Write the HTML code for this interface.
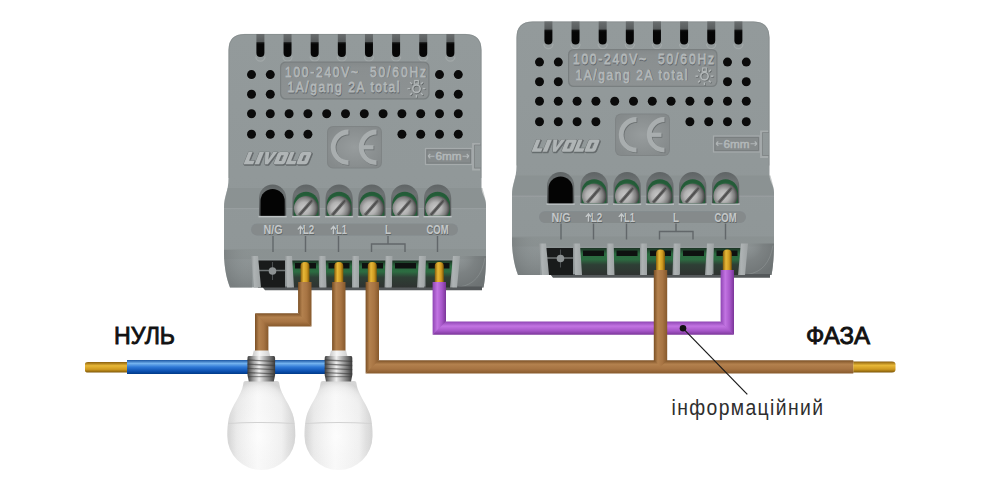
<!DOCTYPE html><html><head><meta charset="utf-8"><style>html,body{margin:0;padding:0;background:#fff;width:1000px;height:500px;overflow:hidden}svg{display:block}text{font-family:"Liberation Sans",sans-serif}</style></head><body>
<svg width="1000" height="500" viewBox="0 0 1000 500">
<defs><linearGradient id="body" x1="0" y1="0" x2="0" y2="1"><stop offset="0" stop-color="#939a9b"/><stop offset="0.55" stop-color="#919899"/><stop offset="1" stop-color="#8f9697"/></linearGradient>
<radialGradient id="lshade" cx="0.9" cy="0.0" r="1.1"><stop offset="0" stop-color="#8a8f90" stop-opacity="0.05"/><stop offset="0.6" stop-color="#767b7c" stop-opacity="0.35"/><stop offset="1" stop-color="#6a6f70" stop-opacity="0.6"/></radialGradient>
<linearGradient id="slot" x1="0" y1="0" x2="0" y2="1"><stop offset="0" stop-color="#6a6e6f"/><stop offset="0.33" stop-color="#585c5d"/><stop offset="0.38" stop-color="#151616"/><stop offset="0.45" stop-color="#060606"/><stop offset="1" stop-color="#050505"/></linearGradient>
<linearGradient id="rim" x1="0" y1="0" x2="0" y2="1"><stop offset="0" stop-color="#5f6465"/><stop offset="0.3" stop-color="#6d7273"/><stop offset="1" stop-color="#4e5253"/></linearGradient>
<radialGradient id="screw" cx="0.42" cy="0.5" r="0.56"><stop offset="0" stop-color="#cacaca"/><stop offset="0.45" stop-color="#b2b2b2"/><stop offset="0.8" stop-color="#7c7c7c"/><stop offset="1" stop-color="#4a4a4a"/></radialGradient><filter id="blur1" x="-50%" y="-50%" width="200%" height="200%"><feGaussianBlur stdDeviation="0.7"/></filter>
<linearGradient id="sslot" x1="0" y1="0" x2="1" y2="0.3"><stop offset="0" stop-color="#d8d8d8" stop-opacity="0"/><stop offset="0.35" stop-color="#5a5a5a"/><stop offset="0.6" stop-color="#7a7a7a"/><stop offset="1" stop-color="#e0e0e0" stop-opacity="0"/></linearGradient>
<linearGradient id="slotg" x1="0" y1="0" x2="0" y2="1"><stop offset="0" stop-color="#1c3324"/><stop offset="0.22" stop-color="#2a6a3f"/><stop offset="0.42" stop-color="#2c6c41"/><stop offset="0.62" stop-color="#2e3f35"/><stop offset="1" stop-color="#2f3331"/></linearGradient>
<linearGradient id="pillar" x1="0" y1="0" x2="1" y2="0"><stop offset="0" stop-color="#8f9495"/><stop offset="0.3" stop-color="#aeb3b4"/><stop offset="1" stop-color="#9ea3a4"/></linearGradient>
<radialGradient id="rshade" cx="0.1" cy="0.0" r="1.1"><stop offset="0" stop-color="#8a8f90" stop-opacity="0.2"/><stop offset="0.5" stop-color="#767b7c" stop-opacity="0.75"/><stop offset="1" stop-color="#6a6f70" stop-opacity="0.9"/></radialGradient>
<linearGradient id="inset" x1="0" y1="0" x2="0" y2="1"><stop offset="0" stop-color="#858a8b"/><stop offset="0.15" stop-color="#8a8f90"/><stop offset="1" stop-color="#8d9293"/></linearGradient>
<radialGradient id="inset2" cx="0.5" cy="0.5" r="0.6"><stop offset="0" stop-color="#979c9d"/><stop offset="1" stop-color="#858a8b"/></radialGradient>
<linearGradient id="brH" x1="0" y1="0" x2="1" y2="0"><stop offset="0" stop-color="#7a4f24"/><stop offset="0.3" stop-color="#b3814e"/><stop offset="0.65" stop-color="#a77443"/><stop offset="1" stop-color="#86592c"/></linearGradient>
<linearGradient id="brV" x1="0" y1="0" x2="0" y2="1"><stop offset="0" stop-color="#7a4f24"/><stop offset="0.3" stop-color="#b3814e"/><stop offset="0.65" stop-color="#a77443"/><stop offset="1" stop-color="#86592c"/></linearGradient>
<linearGradient id="puH" x1="0" y1="0" x2="1" y2="0"><stop offset="0" stop-color="#8e45b3"/><stop offset="0.35" stop-color="#c274e2"/><stop offset="0.7" stop-color="#a656c8"/><stop offset="1" stop-color="#7a3598"/></linearGradient>
<linearGradient id="puV" x1="0" y1="0" x2="0" y2="1"><stop offset="0" stop-color="#8e45b3"/><stop offset="0.35" stop-color="#c274e2"/><stop offset="0.7" stop-color="#a656c8"/><stop offset="1" stop-color="#7a3598"/></linearGradient>
<linearGradient id="blV" x1="0" y1="0" x2="0" y2="1"><stop offset="0" stop-color="#1a55a2"/><stop offset="0.25" stop-color="#72b2ee"/><stop offset="0.5" stop-color="#2f79d6"/><stop offset="0.8" stop-color="#0c50b0"/><stop offset="1" stop-color="#003a88"/></linearGradient>
<linearGradient id="bsH" x1="0" y1="0" x2="1" y2="0"><stop offset="0" stop-color="#8a5e0c"/><stop offset="0.35" stop-color="#e8b838"/><stop offset="0.7" stop-color="#cf9a20"/><stop offset="1" stop-color="#7c5608"/></linearGradient>
<linearGradient id="bsV" x1="0" y1="0" x2="0" y2="1"><stop offset="0" stop-color="#8a5e0c"/><stop offset="0.35" stop-color="#e8b838"/><stop offset="0.7" stop-color="#cf9a20"/><stop offset="1" stop-color="#7c5608"/></linearGradient>
<linearGradient id="metal" x1="0" y1="0" x2="1" y2="0"><stop offset="0" stop-color="#3e3e3e"/><stop offset="0.2" stop-color="#9a9a9a"/><stop offset="0.42" stop-color="#efefef"/><stop offset="0.62" stop-color="#b0b0b0"/><stop offset="0.85" stop-color="#6a6a6a"/><stop offset="1" stop-color="#3a3a3a"/></linearGradient>
<radialGradient id="glass" cx="0.47" cy="0.62" r="0.62"><stop offset="0" stop-color="#ffffff" stop-opacity="0.6"/><stop offset="0.7" stop-color="#f5f5f5" stop-opacity="0"/><stop offset="0.9" stop-color="#d0d0d0" stop-opacity="0.25"/><stop offset="1" stop-color="#b8b8b8" stop-opacity="0.5"/></radialGradient>
<linearGradient id="glassH" x1="0" y1="0" x2="1" y2="0"><stop offset="0" stop-color="#d4d4d4"/><stop offset="0.14" stop-color="#e9e9e9"/><stop offset="0.45" stop-color="#f9f9f9"/><stop offset="0.8" stop-color="#efefef"/><stop offset="1" stop-color="#d2d2d2"/></linearGradient>
<linearGradient id="collar" x1="0" y1="0" x2="1" y2="0"><stop offset="0" stop-color="#c8c8c8"/><stop offset="0.4" stop-color="#f6f6f6"/><stop offset="1" stop-color="#cfcfcf"/></linearGradient>
<linearGradient id="neck" x1="0" y1="0" x2="1" y2="0"><stop offset="0" stop-color="#dcdcdc"/><stop offset="0.4" stop-color="#f8f8f8"/><stop offset="1" stop-color="#e0e0e0"/></linearGradient></defs>
<rect width="1000" height="500" fill="#fff"/>
<g transform="translate(0,0)">
<path d="M228.5,50 Q228.5,34 244.5,34 H465.5 Q481.5,34 481.5,50 V187 C481.5,195 486,197 486,205 V254 C486,268 485,280 483.5,287.5 H230 C227,280 224,268 224,252 V208 C224,196 228.5,192 228.5,178 Z" fill="url(#body)"/>
<path d="M228.9,178 V50 Q228.9,34.4 244.5,34.4 H465.5 Q481.1,34.4 481.1,50 V178" fill="none" stroke="#7f8485" stroke-width="0.8" opacity="0.6"/>
<path d="M224,208 C224,198 226.5,193 227.5,188 H482.5 C483.5,193 486,198 486,208 Z" fill="#858b8c" opacity="0.45"/>
<rect x="224" y="208.2" width="262" height="1" fill="#a5aaab" opacity="0.5"/>
<rect x="224" y="249" width="262" height="10" fill="#868b8c" opacity="0.45"/>
<path d="M455,256 H486 C486,268 485,280 483.5,287.5 H455 Z" fill="url(#rshade)"/>
<path d="M252,250 H224 V252 C224,268 227,280 230,287.5 H252 Z" fill="url(#lshade)"/>
<path d="M459,287 C474,285 482,275 485,258" fill="none" stroke="#a9aeaf" stroke-width="1" opacity="0.3"/>
<path d="M262,286.5 H482 V290.3 H265 Z" fill="#54585a"/>
<path d="M255.80,56.5 a4.6,4.6 0 0 0 9.2,0" fill="none" stroke="#b5babb" stroke-width="1.2" opacity="0.45"/>
<path d="M256.40,34 h8 v19 a4,4 0 0 1 -8,0 Z" fill="url(#slot)"/>
<path d="M282.94,56.5 a4.6,4.6 0 0 0 9.2,0" fill="none" stroke="#b5babb" stroke-width="1.2" opacity="0.45"/>
<path d="M283.54,34 h8 v19 a4,4 0 0 1 -8,0 Z" fill="url(#slot)"/>
<path d="M310.08,56.5 a4.6,4.6 0 0 0 9.2,0" fill="none" stroke="#b5babb" stroke-width="1.2" opacity="0.45"/>
<path d="M310.68,34 h8 v19 a4,4 0 0 1 -8,0 Z" fill="url(#slot)"/>
<path d="M337.22,56.5 a4.6,4.6 0 0 0 9.2,0" fill="none" stroke="#b5babb" stroke-width="1.2" opacity="0.45"/>
<path d="M337.82,34 h8 v19 a4,4 0 0 1 -8,0 Z" fill="url(#slot)"/>
<path d="M364.36,56.5 a4.6,4.6 0 0 0 9.2,0" fill="none" stroke="#b5babb" stroke-width="1.2" opacity="0.45"/>
<path d="M364.96,34 h8 v19 a4,4 0 0 1 -8,0 Z" fill="url(#slot)"/>
<path d="M391.50,56.5 a4.6,4.6 0 0 0 9.2,0" fill="none" stroke="#b5babb" stroke-width="1.2" opacity="0.45"/>
<path d="M392.10,34 h8 v19 a4,4 0 0 1 -8,0 Z" fill="url(#slot)"/>
<path d="M418.64,56.5 a4.6,4.6 0 0 0 9.2,0" fill="none" stroke="#b5babb" stroke-width="1.2" opacity="0.45"/>
<path d="M419.24,34 h8 v19 a4,4 0 0 1 -8,0 Z" fill="url(#slot)"/>
<path d="M445.78,56.5 a4.6,4.6 0 0 0 9.2,0" fill="none" stroke="#b5babb" stroke-width="1.2" opacity="0.45"/>
<path d="M446.38,34 h8 v19 a4,4 0 0 1 -8,0 Z" fill="url(#slot)"/>
<circle cx="251.50" cy="75.1" r="4.6" fill="#b4b9ba" opacity="0.35"/>
<circle cx="251.50" cy="74.6" r="4.5" fill="#0b0b0b"/>
<circle cx="270.30" cy="75.1" r="4.6" fill="#b4b9ba" opacity="0.35"/>
<circle cx="270.30" cy="74.6" r="4.5" fill="#0b0b0b"/>
<circle cx="439.50" cy="75.1" r="4.6" fill="#b4b9ba" opacity="0.35"/>
<circle cx="439.50" cy="74.6" r="4.5" fill="#0b0b0b"/>
<circle cx="458.30" cy="75.1" r="4.6" fill="#b4b9ba" opacity="0.35"/>
<circle cx="458.30" cy="74.6" r="4.5" fill="#0b0b0b"/>
<circle cx="251.50" cy="94.7" r="4.6" fill="#b4b9ba" opacity="0.35"/>
<circle cx="251.50" cy="94.2" r="4.5" fill="#0b0b0b"/>
<circle cx="270.30" cy="94.7" r="4.6" fill="#b4b9ba" opacity="0.35"/>
<circle cx="270.30" cy="94.2" r="4.5" fill="#0b0b0b"/>
<circle cx="439.50" cy="94.7" r="4.6" fill="#b4b9ba" opacity="0.35"/>
<circle cx="439.50" cy="94.2" r="4.5" fill="#0b0b0b"/>
<circle cx="458.30" cy="94.7" r="4.6" fill="#b4b9ba" opacity="0.35"/>
<circle cx="458.30" cy="94.2" r="4.5" fill="#0b0b0b"/>
<circle cx="251.50" cy="114.3" r="4.6" fill="#b4b9ba" opacity="0.35"/>
<circle cx="251.50" cy="113.8" r="4.5" fill="#0b0b0b"/>
<circle cx="270.30" cy="114.3" r="4.6" fill="#b4b9ba" opacity="0.35"/>
<circle cx="270.30" cy="113.8" r="4.5" fill="#0b0b0b"/>
<circle cx="289.10" cy="114.3" r="4.6" fill="#b4b9ba" opacity="0.35"/>
<circle cx="289.10" cy="113.8" r="4.5" fill="#0b0b0b"/>
<circle cx="307.90" cy="114.3" r="4.6" fill="#b4b9ba" opacity="0.35"/>
<circle cx="307.90" cy="113.8" r="4.5" fill="#0b0b0b"/>
<circle cx="326.70" cy="114.3" r="4.6" fill="#b4b9ba" opacity="0.35"/>
<circle cx="326.70" cy="113.8" r="4.5" fill="#0b0b0b"/>
<circle cx="345.50" cy="114.3" r="4.6" fill="#b4b9ba" opacity="0.35"/>
<circle cx="345.50" cy="113.8" r="4.5" fill="#0b0b0b"/>
<circle cx="364.30" cy="114.3" r="4.6" fill="#b4b9ba" opacity="0.35"/>
<circle cx="364.30" cy="113.8" r="4.5" fill="#0b0b0b"/>
<circle cx="383.10" cy="114.3" r="4.6" fill="#b4b9ba" opacity="0.35"/>
<circle cx="383.10" cy="113.8" r="4.5" fill="#0b0b0b"/>
<circle cx="401.90" cy="114.3" r="4.6" fill="#b4b9ba" opacity="0.35"/>
<circle cx="401.90" cy="113.8" r="4.5" fill="#0b0b0b"/>
<circle cx="420.70" cy="114.3" r="4.6" fill="#b4b9ba" opacity="0.35"/>
<circle cx="420.70" cy="113.8" r="4.5" fill="#0b0b0b"/>
<circle cx="439.50" cy="114.3" r="4.6" fill="#b4b9ba" opacity="0.35"/>
<circle cx="439.50" cy="113.8" r="4.5" fill="#0b0b0b"/>
<circle cx="458.30" cy="114.3" r="4.6" fill="#b4b9ba" opacity="0.35"/>
<circle cx="458.30" cy="113.8" r="4.5" fill="#0b0b0b"/>
<circle cx="251.50" cy="134.7" r="4.6" fill="#b4b9ba" opacity="0.35"/>
<circle cx="251.50" cy="134.2" r="4.5" fill="#0b0b0b"/>
<circle cx="270.30" cy="134.7" r="4.6" fill="#b4b9ba" opacity="0.35"/>
<circle cx="270.30" cy="134.2" r="4.5" fill="#0b0b0b"/>
<circle cx="289.10" cy="134.7" r="4.6" fill="#b4b9ba" opacity="0.35"/>
<circle cx="289.10" cy="134.2" r="4.5" fill="#0b0b0b"/>
<circle cx="307.90" cy="134.7" r="4.6" fill="#b4b9ba" opacity="0.35"/>
<circle cx="307.90" cy="134.2" r="4.5" fill="#0b0b0b"/>
<circle cx="401.90" cy="134.7" r="4.6" fill="#b4b9ba" opacity="0.35"/>
<circle cx="401.90" cy="134.2" r="4.5" fill="#0b0b0b"/>
<circle cx="420.70" cy="134.7" r="4.6" fill="#b4b9ba" opacity="0.35"/>
<circle cx="420.70" cy="134.2" r="4.5" fill="#0b0b0b"/>
<circle cx="439.50" cy="134.7" r="4.6" fill="#b4b9ba" opacity="0.35"/>
<circle cx="439.50" cy="134.2" r="4.5" fill="#0b0b0b"/>
<circle cx="458.30" cy="134.7" r="4.6" fill="#b4b9ba" opacity="0.35"/>
<circle cx="458.30" cy="134.2" r="4.5" fill="#0b0b0b"/>
<rect x="280" y="61.5" width="149.5" height="38" rx="5.5" fill="#6f7475" opacity="0.7"/>
<rect x="281.2" y="62.7" width="147.1" height="35.6" rx="4.8" fill="url(#inset)"/>
<text transform="translate(285.49,77.3) scale(0.8,1)" x="0" y="0" font-size="15" fill="#60656a" stroke="#60656a" stroke-width="0.75" textLength="91.25" lengthAdjust="spacing">100-240V~</text>
<text transform="translate(285.0,76.6) scale(0.8,1)" x="0" y="0" font-size="15" fill="#b3b8b9" stroke="#b3b8b9" stroke-width="0.75" textLength="91.25" lengthAdjust="spacing">100-240V~</text>
<text transform="translate(370.49,77.3) scale(0.8,1)" x="0" y="0" font-size="15" fill="#60656a" stroke="#60656a" stroke-width="0.75" textLength="70.00" lengthAdjust="spacing">50/60Hz</text>
<text transform="translate(370.0,76.6) scale(0.8,1)" x="0" y="0" font-size="15" fill="#b3b8b9" stroke="#b3b8b9" stroke-width="0.75" textLength="70.00" lengthAdjust="spacing">50/60Hz</text>
<text transform="translate(287.99,92.8) scale(0.8,1)" x="0" y="0" font-size="15" fill="#60656a" stroke="#60656a" stroke-width="0.75" textLength="140.00" lengthAdjust="spacing">1A/gang 2A total</text>
<text transform="translate(287.5,92.1) scale(0.8,1)" x="0" y="0" font-size="15" fill="#b3b8b9" stroke="#b3b8b9" stroke-width="0.75" textLength="140.00" lengthAdjust="spacing">1A/gang 2A total</text>
<g transform="translate(0.6,0.6)">
<circle cx="416.5" cy="88.7" r="3.7" fill="none" stroke="#5d6263" stroke-width="1.6"/>
<line x1="420.95" y1="84.25" x2="422.86" y2="82.34" stroke="#5d6263" stroke-width="1.5"/>
<line x1="422.80" y1="88.70" x2="425.50" y2="88.70" stroke="#5d6263" stroke-width="1.5"/>
<line x1="420.95" y1="93.15" x2="422.86" y2="95.06" stroke="#5d6263" stroke-width="1.5"/>
<line x1="416.50" y1="95.00" x2="416.50" y2="97.70" stroke="#5d6263" stroke-width="1.5"/>
<line x1="412.05" y1="93.15" x2="410.14" y2="95.06" stroke="#5d6263" stroke-width="1.5"/>
<line x1="410.20" y1="88.70" x2="407.50" y2="88.70" stroke="#5d6263" stroke-width="1.5"/>
<line x1="412.05" y1="84.25" x2="410.14" y2="82.34" stroke="#5d6263" stroke-width="1.5"/>
<rect x="414.7" y="80.5" width="3.6" height="3.6" fill="none" stroke="#5d6263" stroke-width="1.2"/>
</g>
<g transform="translate(0,0)">
<circle cx="416.5" cy="88.7" r="3.7" fill="none" stroke="#b3b8b9" stroke-width="1.6"/>
<line x1="420.95" y1="84.25" x2="422.86" y2="82.34" stroke="#b3b8b9" stroke-width="1.5"/>
<line x1="422.80" y1="88.70" x2="425.50" y2="88.70" stroke="#b3b8b9" stroke-width="1.5"/>
<line x1="420.95" y1="93.15" x2="422.86" y2="95.06" stroke="#b3b8b9" stroke-width="1.5"/>
<line x1="416.50" y1="95.00" x2="416.50" y2="97.70" stroke="#b3b8b9" stroke-width="1.5"/>
<line x1="412.05" y1="93.15" x2="410.14" y2="95.06" stroke="#b3b8b9" stroke-width="1.5"/>
<line x1="410.20" y1="88.70" x2="407.50" y2="88.70" stroke="#b3b8b9" stroke-width="1.5"/>
<line x1="412.05" y1="84.25" x2="410.14" y2="82.34" stroke="#b3b8b9" stroke-width="1.5"/>
<rect x="414.7" y="80.5" width="3.6" height="3.6" fill="none" stroke="#b3b8b9" stroke-width="1.2"/>
</g>
<path transform="translate(244.5,165.2) skewX(-22)" d="M0,-12.2 h4.0 v8.6 h5.5 v3.6 h-9.5 Z" fill="#62676a" fill-rule="evenodd" stroke="#6a6f70" stroke-width="0.9" paint-order="stroke"/>
<path transform="translate(244.5,165.2) skewX(-22)" d="M11,-12.2 h4.5 v12.2 h-4.5 Z" fill="#62676a" fill-rule="evenodd" stroke="#6a6f70" stroke-width="0.9" paint-order="stroke"/>
<path transform="translate(244.5,165.2) skewX(-22)" d="M16.8,-12.2 h4.0 l2,7.699999999999999 l2,-7.699999999999999 h4.0 l-4.5,12.2 h-3 Z" fill="#62676a" fill-rule="evenodd" stroke="#6a6f70" stroke-width="0.9" paint-order="stroke"/>
<path transform="translate(244.5,165.2) skewX(-22)" d="M31.8,-12.2 h7 a2,2 0 0 1 2,2 v8.2 a2,2 0 0 1 -2,2 h-7 a2,2 0 0 1 -2,-2 v-8.2 a2,2 0 0 1 2,-2 Z M34.0,-9.0 v5.799999999999999 h2.6 v-5.799999999999999 Z" fill="#62676a" fill-rule="evenodd" stroke="#6a6f70" stroke-width="0.9" paint-order="stroke"/>
<path transform="translate(244.5,165.2) skewX(-22)" d="M42,-12.2 h4.0 v8.6 h5.5 v3.6 h-9.5 Z" fill="#62676a" fill-rule="evenodd" stroke="#6a6f70" stroke-width="0.9" paint-order="stroke"/>
<path transform="translate(244.5,165.2) skewX(-22)" d="M54.5,-12.2 h7 a2,2 0 0 1 2,2 v8.2 a2,2 0 0 1 -2,2 h-7 a2,2 0 0 1 -2,-2 v-8.2 a2,2 0 0 1 2,-2 Z M56.7,-9.0 v5.799999999999999 h2.6 v-5.799999999999999 Z" fill="#62676a" fill-rule="evenodd" stroke="#6a6f70" stroke-width="0.9" paint-order="stroke"/>
<path transform="translate(243.6,164.3) skewX(-22)" d="M0,-12.2 h4.0 v8.6 h5.5 v3.6 h-9.5 Z" fill="#b0b5b6" fill-rule="evenodd" stroke="#6a6f70" stroke-width="0.9" paint-order="stroke"/>
<path transform="translate(243.6,164.3) skewX(-22)" d="M11,-12.2 h4.5 v12.2 h-4.5 Z" fill="#b0b5b6" fill-rule="evenodd" stroke="#6a6f70" stroke-width="0.9" paint-order="stroke"/>
<path transform="translate(243.6,164.3) skewX(-22)" d="M16.8,-12.2 h4.0 l2,7.699999999999999 l2,-7.699999999999999 h4.0 l-4.5,12.2 h-3 Z" fill="#b0b5b6" fill-rule="evenodd" stroke="#6a6f70" stroke-width="0.9" paint-order="stroke"/>
<path transform="translate(243.6,164.3) skewX(-22)" d="M31.8,-12.2 h7 a2,2 0 0 1 2,2 v8.2 a2,2 0 0 1 -2,2 h-7 a2,2 0 0 1 -2,-2 v-8.2 a2,2 0 0 1 2,-2 Z M34.0,-9.0 v5.799999999999999 h2.6 v-5.799999999999999 Z" fill="#b0b5b6" fill-rule="evenodd" stroke="#6a6f70" stroke-width="0.9" paint-order="stroke"/>
<path transform="translate(243.6,164.3) skewX(-22)" d="M42,-12.2 h4.0 v8.6 h5.5 v3.6 h-9.5 Z" fill="#b0b5b6" fill-rule="evenodd" stroke="#6a6f70" stroke-width="0.9" paint-order="stroke"/>
<path transform="translate(243.6,164.3) skewX(-22)" d="M54.5,-12.2 h7 a2,2 0 0 1 2,2 v8.2 a2,2 0 0 1 -2,2 h-7 a2,2 0 0 1 -2,-2 v-8.2 a2,2 0 0 1 2,-2 Z M56.7,-9.0 v5.799999999999999 h2.6 v-5.799999999999999 Z" fill="#b0b5b6" fill-rule="evenodd" stroke="#6a6f70" stroke-width="0.9" paint-order="stroke"/>
<rect x="327" y="126" width="55" height="42.5" rx="6" fill="#7f8485"/>
<rect x="328" y="127" width="53" height="40.5" rx="5.5" fill="url(#inset2)"/>
<g transform="translate(0.8,0.8)">
<path d="M348.5,132 A15.3,15.3 0 0 0 348.5,162.6" fill="none" stroke="#6c7172" stroke-width="4.8"/>
<path d="M376.5,132 A15.3,15.3 0 0 0 376.5,162.6" fill="none" stroke="#6c7172" stroke-width="4.8"/>
<line x1="362" y1="147.3" x2="373.5" y2="147.3" stroke="#6c7172" stroke-width="4.2"/>
</g>
<g transform="translate(0,0)">
<path d="M348.5,132 A15.3,15.3 0 0 0 348.5,162.6" fill="none" stroke="#a9aeaf" stroke-width="4.8"/>
<path d="M376.5,132 A15.3,15.3 0 0 0 376.5,162.6" fill="none" stroke="#a9aeaf" stroke-width="4.8"/>
<line x1="362" y1="147.3" x2="373.5" y2="147.3" stroke="#a9aeaf" stroke-width="4.2"/>
</g>
<rect x="425.5" y="148.5" width="46.5" height="16" fill="#868b8c" stroke="#a6abac" stroke-width="1.2"/>
<rect x="427" y="150" width="43.5" height="13" fill="none" stroke="#787d7e" stroke-width="0.8"/>
<text x="435.5" y="160" font-size="10.8" fill="#b3b8b9" stroke="#b3b8b9" stroke-width="0.5" textLength="26" lengthAdjust="spacingAndGlyphs">6mm</text>
<path d="M428,156.2 H434.5 M428,156.2 l2.3,-2.2 M428,156.2 l2.3,2.2 M462.5,156.2 H469 M469,156.2 l-2.3,-2.2 M469,156.2 l-2.3,2.2" fill="none" stroke="#b3b8b9" stroke-width="1.1"/>
<path d="M480,144 H473 V169.5 H480" fill="none" stroke="#a6abac" stroke-width="1.8"/>
<path d="M481,145 H474.5 V168 H481" fill="none" stroke="#7b8081" stroke-width="0.7"/>
<rect x="258.5" y="215.8" width="28.2" height="1.6" fill="#c3c8c9" opacity="0.85"/>
<path d="M259,215.8 V198.1 A13.6,13.6 0 0 1 286.2,198.1 V215.8 Z" fill="url(#rim)"/>
<path d="M260.5,215.8 V201.1 A12.1,12.1 0 0 1 284.7,201.1 V215.8 Z" fill="#040404"/>
<rect x="292.0" y="215.8" width="28.2" height="1.6" fill="#c3c8c9" opacity="0.85"/>
<path d="M292.5,215.8 V198.1 A13.6,13.6 0 0 1 319.7,198.1 V215.8 Z" fill="url(#rim)"/>
<path d="M293.7,215.8 V204.1 A12.4,12.4 0 0 1 318.5,204.1 V215.8 Z" fill="#245c38"/>
<path d="M295.0,215.8 V206.1 A11.1,11.1 0 0 1 317.2,206.1 V215.8 Z" fill="#2b6e44" opacity="0.5"/>
<clipPath id="cp2925"><rect x="292.5" y="180" width="27.2" height="35.80000000000001"/></clipPath>
<g clip-path="url(#cp2925)">
<circle cx="306.1" cy="208.3" r="12.2" fill="url(#screw)"/>
<line x1="299.1" y1="215.3" x2="312.6" y2="199.8" stroke="#6a6a6a" stroke-width="3.4" filter="url(#blur1)"/>
<line x1="299.6" y1="214.8" x2="312.1" y2="200.3" stroke="#4a4a4a" stroke-width="1.2" filter="url(#blur1)"/>
</g>
<rect x="325.0" y="215.8" width="28.2" height="1.6" fill="#c3c8c9" opacity="0.85"/>
<path d="M325.5,215.8 V198.1 A13.6,13.6 0 0 1 352.7,198.1 V215.8 Z" fill="url(#rim)"/>
<path d="M326.7,215.8 V204.1 A12.4,12.4 0 0 1 351.5,204.1 V215.8 Z" fill="#245c38"/>
<path d="M328.0,215.8 V206.1 A11.1,11.1 0 0 1 350.2,206.1 V215.8 Z" fill="#2b6e44" opacity="0.5"/>
<clipPath id="cp3255"><rect x="325.5" y="180" width="27.2" height="35.80000000000001"/></clipPath>
<g clip-path="url(#cp3255)">
<circle cx="339.1" cy="208.3" r="12.2" fill="url(#screw)"/>
<line x1="332.1" y1="215.3" x2="345.6" y2="199.8" stroke="#6a6a6a" stroke-width="3.4" filter="url(#blur1)"/>
<line x1="332.6" y1="214.8" x2="345.1" y2="200.3" stroke="#4a4a4a" stroke-width="1.2" filter="url(#blur1)"/>
</g>
<rect x="357.8" y="215.8" width="28.2" height="1.6" fill="#c3c8c9" opacity="0.85"/>
<path d="M358.3,215.8 V198.1 A13.6,13.6 0 0 1 385.5,198.1 V215.8 Z" fill="url(#rim)"/>
<path d="M359.5,215.8 V204.1 A12.4,12.4 0 0 1 384.3,204.1 V215.8 Z" fill="#245c38"/>
<path d="M360.8,215.8 V206.1 A11.1,11.1 0 0 1 383.0,206.1 V215.8 Z" fill="#2b6e44" opacity="0.5"/>
<clipPath id="cp3583"><rect x="358.3" y="180" width="27.2" height="35.80000000000001"/></clipPath>
<g clip-path="url(#cp3583)">
<circle cx="371.90000000000003" cy="208.3" r="12.2" fill="url(#screw)"/>
<line x1="364.90000000000003" y1="215.3" x2="378.40000000000003" y2="199.8" stroke="#6a6a6a" stroke-width="3.4" filter="url(#blur1)"/>
<line x1="365.40000000000003" y1="214.8" x2="377.90000000000003" y2="200.3" stroke="#4a4a4a" stroke-width="1.2" filter="url(#blur1)"/>
</g>
<rect x="390.6" y="215.8" width="28.2" height="1.6" fill="#c3c8c9" opacity="0.85"/>
<path d="M391.1,215.8 V198.1 A13.6,13.6 0 0 1 418.3,198.1 V215.8 Z" fill="url(#rim)"/>
<path d="M392.3,215.8 V204.1 A12.4,12.4 0 0 1 417.1,204.1 V215.8 Z" fill="#245c38"/>
<path d="M393.6,215.8 V206.1 A11.1,11.1 0 0 1 415.8,206.1 V215.8 Z" fill="#2b6e44" opacity="0.5"/>
<clipPath id="cp3911"><rect x="391.1" y="180" width="27.2" height="35.80000000000001"/></clipPath>
<g clip-path="url(#cp3911)">
<circle cx="404.70000000000005" cy="208.3" r="12.2" fill="url(#screw)"/>
<line x1="397.70000000000005" y1="215.3" x2="411.20000000000005" y2="199.8" stroke="#6a6a6a" stroke-width="3.4" filter="url(#blur1)"/>
<line x1="398.20000000000005" y1="214.8" x2="410.70000000000005" y2="200.3" stroke="#4a4a4a" stroke-width="1.2" filter="url(#blur1)"/>
</g>
<rect x="423.5" y="215.8" width="28.2" height="1.6" fill="#c3c8c9" opacity="0.85"/>
<path d="M424,215.8 V198.1 A13.6,13.6 0 0 1 451.2,198.1 V215.8 Z" fill="url(#rim)"/>
<path d="M425.2,215.8 V204.1 A12.4,12.4 0 0 1 450.0,204.1 V215.8 Z" fill="#245c38"/>
<path d="M426.5,215.8 V206.1 A11.1,11.1 0 0 1 448.7,206.1 V215.8 Z" fill="#2b6e44" opacity="0.5"/>
<clipPath id="cp4240"><rect x="424" y="180" width="27.2" height="35.80000000000001"/></clipPath>
<g clip-path="url(#cp4240)">
<circle cx="437.6" cy="208.3" r="12.2" fill="url(#screw)"/>
<line x1="430.6" y1="215.3" x2="444.1" y2="199.8" stroke="#6a6a6a" stroke-width="3.4" filter="url(#blur1)"/>
<line x1="431.1" y1="214.8" x2="443.6" y2="200.3" stroke="#4a4a4a" stroke-width="1.2" filter="url(#blur1)"/>
</g>
<rect x="251" y="223.5" width="207" height="12" rx="6" fill="#80858a" opacity="0.65"/>
<rect x="251.5" y="224.2" width="206" height="11" rx="5.5" fill="#858a8b"/>
<text x="273.5" y="235" text-anchor="middle" font-size="12" font-weight="bold" fill="#5f6465" textLength="19" lengthAdjust="spacingAndGlyphs">N/G</text>
<text x="273" y="234.3" text-anchor="middle" font-size="12" font-weight="bold" fill="#c4c8c9" textLength="19" lengthAdjust="spacingAndGlyphs">N/G</text>
<text x="309.0" y="235" text-anchor="middle" font-size="12" font-weight="bold" fill="#5f6465" textLength="11.5" lengthAdjust="spacingAndGlyphs">L2</text>
<text x="308.5" y="234.3" text-anchor="middle" font-size="12" font-weight="bold" fill="#c4c8c9" textLength="11.5" lengthAdjust="spacingAndGlyphs">L2</text>
<text x="342.0" y="235" text-anchor="middle" font-size="12" font-weight="bold" fill="#5f6465" textLength="11" lengthAdjust="spacingAndGlyphs">L1</text>
<text x="341.5" y="234.3" text-anchor="middle" font-size="12" font-weight="bold" fill="#c4c8c9" textLength="11" lengthAdjust="spacingAndGlyphs">L1</text>
<text x="388.5" y="235" text-anchor="middle" font-size="12" font-weight="bold" fill="#5f6465" textLength="6" lengthAdjust="spacingAndGlyphs">L</text>
<text x="388" y="234.3" text-anchor="middle" font-size="12" font-weight="bold" fill="#c4c8c9" textLength="6" lengthAdjust="spacingAndGlyphs">L</text>
<text x="438.0" y="235" text-anchor="middle" font-size="12" font-weight="bold" fill="#5f6465" textLength="22" lengthAdjust="spacingAndGlyphs">COM</text>
<text x="437.5" y="234.3" text-anchor="middle" font-size="12" font-weight="bold" fill="#c4c8c9" textLength="22" lengthAdjust="spacingAndGlyphs">COM</text>
<path transform="translate(0.5,0.5)" d="M300.5,226.5 V234.3 M297.9,229.4 L300.5,226.3 L303.1,229.4" fill="none" stroke="#5f6465" stroke-width="1.5"/>
<path transform="translate(0,0)" d="M300.5,226.5 V234.3 M297.9,229.4 L300.5,226.3 L303.1,229.4" fill="none" stroke="#c4c8c9" stroke-width="1.5"/>
<path transform="translate(0.5,0.5)" d="M333.5,226.5 V234.3 M330.9,229.4 L333.5,226.3 L336.1,229.4" fill="none" stroke="#5f6465" stroke-width="1.5"/>
<path transform="translate(0,0)" d="M333.5,226.5 V234.3 M330.9,229.4 L333.5,226.3 L336.1,229.4" fill="none" stroke="#c4c8c9" stroke-width="1.5"/>
<line x1="273" y1="236" x2="273" y2="252" stroke="#62676a" stroke-width="1.4"/>
<line x1="305.5" y1="236" x2="305.5" y2="252" stroke="#62676a" stroke-width="1.4"/>
<line x1="338.5" y1="236" x2="338.5" y2="252" stroke="#62676a" stroke-width="1.4"/>
<line x1="437.5" y1="236" x2="437.5" y2="252" stroke="#62676a" stroke-width="1.4"/>
<path d="M388,236 V244 M371.5,252 V244 H405 V252" fill="none" stroke="#62676a" stroke-width="1.4"/>
<rect x="258" y="260.5" width="27" height="27" fill="#191b1b"/>
<line x1="258" y1="270.5" x2="285" y2="270.5" stroke="#6f7475" stroke-width="1.5"/>
<line x1="272.5" y1="262" x2="272.5" y2="280" stroke="#4a4e4f" stroke-width="1.1"/>
<circle cx="272.5" cy="271" r="3.8" fill="#8d9293"/>
<rect x="292" y="260.5" width="27" height="27" fill="url(#slotg)"/>
<rect x="295" y="263" width="21" height="5.5" fill="#0e1110"/>
<rect x="325.5" y="260.5" width="27" height="27" fill="url(#slotg)"/>
<rect x="328.5" y="263" width="21" height="5.5" fill="#0e1110"/>
<rect x="359" y="260.5" width="27" height="27" fill="url(#slotg)"/>
<rect x="362" y="263" width="21" height="5.5" fill="#0e1110"/>
<rect x="392" y="260.5" width="27" height="27" fill="url(#slotg)"/>
<rect x="395" y="263" width="21" height="5.5" fill="#0e1110"/>
<rect x="425.5" y="260.5" width="27" height="27" fill="url(#slotg)"/>
<rect x="428.5" y="263" width="21" height="5.5" fill="#0e1110"/>
<path d="M251,256 H258 L261.0,287.5 H254.0 Z" fill="url(#pillar)"/>
<path d="M285,256 H292 L294.0,287.5 H287.0 Z" fill="url(#pillar)"/>
<path d="M318.5,256 H325.5 L326.5,287.5 H319.5 Z" fill="url(#pillar)"/>
<path d="M352,256 H359 L359.0,287.5 H352.0 Z" fill="url(#pillar)"/>
<path d="M385.5,256 H392.5 L391.5,287.5 H384.5 Z" fill="url(#pillar)"/>
<path d="M419,256 H426 L424.0,287.5 H417.0 Z" fill="url(#pillar)"/>
<path d="M453,256 H460 L457.0,287.5 H450.0 Z" fill="url(#pillar)"/>
</g>
<g transform="translate(288,-12.5)">
<path d="M228.5,50 Q228.5,34 244.5,34 H465.5 Q481.5,34 481.5,50 V187 C481.5,195 486,197 486,205 V254 C486,268 485,280 483.5,287.5 H230 C227,280 224,268 224,252 V208 C224,196 228.5,192 228.5,178 Z" fill="url(#body)"/>
<path d="M228.9,178 V50 Q228.9,34.4 244.5,34.4 H465.5 Q481.1,34.4 481.1,50 V178" fill="none" stroke="#7f8485" stroke-width="0.8" opacity="0.6"/>
<path d="M224,208 C224,198 226.5,193 227.5,188 H482.5 C483.5,193 486,198 486,208 Z" fill="#858b8c" opacity="0.45"/>
<rect x="224" y="208.2" width="262" height="1" fill="#a5aaab" opacity="0.5"/>
<rect x="224" y="249" width="262" height="10" fill="#868b8c" opacity="0.45"/>
<path d="M455,256 H486 C486,268 485,280 483.5,287.5 H455 Z" fill="url(#rshade)"/>
<path d="M252,250 H224 V252 C224,268 227,280 230,287.5 H252 Z" fill="url(#lshade)"/>
<path d="M459,287 C474,285 482,275 485,258" fill="none" stroke="#a9aeaf" stroke-width="1" opacity="0.3"/>
<path d="M262,286.5 H482 V290.3 H265 Z" fill="#54585a"/>
<path d="M255.80,56.5 a4.6,4.6 0 0 0 9.2,0" fill="none" stroke="#b5babb" stroke-width="1.2" opacity="0.45"/>
<path d="M256.40,34 h8 v19 a4,4 0 0 1 -8,0 Z" fill="url(#slot)"/>
<path d="M282.94,56.5 a4.6,4.6 0 0 0 9.2,0" fill="none" stroke="#b5babb" stroke-width="1.2" opacity="0.45"/>
<path d="M283.54,34 h8 v19 a4,4 0 0 1 -8,0 Z" fill="url(#slot)"/>
<path d="M310.08,56.5 a4.6,4.6 0 0 0 9.2,0" fill="none" stroke="#b5babb" stroke-width="1.2" opacity="0.45"/>
<path d="M310.68,34 h8 v19 a4,4 0 0 1 -8,0 Z" fill="url(#slot)"/>
<path d="M337.22,56.5 a4.6,4.6 0 0 0 9.2,0" fill="none" stroke="#b5babb" stroke-width="1.2" opacity="0.45"/>
<path d="M337.82,34 h8 v19 a4,4 0 0 1 -8,0 Z" fill="url(#slot)"/>
<path d="M364.36,56.5 a4.6,4.6 0 0 0 9.2,0" fill="none" stroke="#b5babb" stroke-width="1.2" opacity="0.45"/>
<path d="M364.96,34 h8 v19 a4,4 0 0 1 -8,0 Z" fill="url(#slot)"/>
<path d="M391.50,56.5 a4.6,4.6 0 0 0 9.2,0" fill="none" stroke="#b5babb" stroke-width="1.2" opacity="0.45"/>
<path d="M392.10,34 h8 v19 a4,4 0 0 1 -8,0 Z" fill="url(#slot)"/>
<path d="M418.64,56.5 a4.6,4.6 0 0 0 9.2,0" fill="none" stroke="#b5babb" stroke-width="1.2" opacity="0.45"/>
<path d="M419.24,34 h8 v19 a4,4 0 0 1 -8,0 Z" fill="url(#slot)"/>
<path d="M445.78,56.5 a4.6,4.6 0 0 0 9.2,0" fill="none" stroke="#b5babb" stroke-width="1.2" opacity="0.45"/>
<path d="M446.38,34 h8 v19 a4,4 0 0 1 -8,0 Z" fill="url(#slot)"/>
<circle cx="251.50" cy="75.1" r="4.6" fill="#b4b9ba" opacity="0.35"/>
<circle cx="251.50" cy="74.6" r="4.5" fill="#0b0b0b"/>
<circle cx="270.30" cy="75.1" r="4.6" fill="#b4b9ba" opacity="0.35"/>
<circle cx="270.30" cy="74.6" r="4.5" fill="#0b0b0b"/>
<circle cx="439.50" cy="75.1" r="4.6" fill="#b4b9ba" opacity="0.35"/>
<circle cx="439.50" cy="74.6" r="4.5" fill="#0b0b0b"/>
<circle cx="458.30" cy="75.1" r="4.6" fill="#b4b9ba" opacity="0.35"/>
<circle cx="458.30" cy="74.6" r="4.5" fill="#0b0b0b"/>
<circle cx="251.50" cy="94.7" r="4.6" fill="#b4b9ba" opacity="0.35"/>
<circle cx="251.50" cy="94.2" r="4.5" fill="#0b0b0b"/>
<circle cx="270.30" cy="94.7" r="4.6" fill="#b4b9ba" opacity="0.35"/>
<circle cx="270.30" cy="94.2" r="4.5" fill="#0b0b0b"/>
<circle cx="439.50" cy="94.7" r="4.6" fill="#b4b9ba" opacity="0.35"/>
<circle cx="439.50" cy="94.2" r="4.5" fill="#0b0b0b"/>
<circle cx="458.30" cy="94.7" r="4.6" fill="#b4b9ba" opacity="0.35"/>
<circle cx="458.30" cy="94.2" r="4.5" fill="#0b0b0b"/>
<circle cx="251.50" cy="114.3" r="4.6" fill="#b4b9ba" opacity="0.35"/>
<circle cx="251.50" cy="113.8" r="4.5" fill="#0b0b0b"/>
<circle cx="270.30" cy="114.3" r="4.6" fill="#b4b9ba" opacity="0.35"/>
<circle cx="270.30" cy="113.8" r="4.5" fill="#0b0b0b"/>
<circle cx="289.10" cy="114.3" r="4.6" fill="#b4b9ba" opacity="0.35"/>
<circle cx="289.10" cy="113.8" r="4.5" fill="#0b0b0b"/>
<circle cx="307.90" cy="114.3" r="4.6" fill="#b4b9ba" opacity="0.35"/>
<circle cx="307.90" cy="113.8" r="4.5" fill="#0b0b0b"/>
<circle cx="326.70" cy="114.3" r="4.6" fill="#b4b9ba" opacity="0.35"/>
<circle cx="326.70" cy="113.8" r="4.5" fill="#0b0b0b"/>
<circle cx="345.50" cy="114.3" r="4.6" fill="#b4b9ba" opacity="0.35"/>
<circle cx="345.50" cy="113.8" r="4.5" fill="#0b0b0b"/>
<circle cx="364.30" cy="114.3" r="4.6" fill="#b4b9ba" opacity="0.35"/>
<circle cx="364.30" cy="113.8" r="4.5" fill="#0b0b0b"/>
<circle cx="383.10" cy="114.3" r="4.6" fill="#b4b9ba" opacity="0.35"/>
<circle cx="383.10" cy="113.8" r="4.5" fill="#0b0b0b"/>
<circle cx="401.90" cy="114.3" r="4.6" fill="#b4b9ba" opacity="0.35"/>
<circle cx="401.90" cy="113.8" r="4.5" fill="#0b0b0b"/>
<circle cx="420.70" cy="114.3" r="4.6" fill="#b4b9ba" opacity="0.35"/>
<circle cx="420.70" cy="113.8" r="4.5" fill="#0b0b0b"/>
<circle cx="439.50" cy="114.3" r="4.6" fill="#b4b9ba" opacity="0.35"/>
<circle cx="439.50" cy="113.8" r="4.5" fill="#0b0b0b"/>
<circle cx="458.30" cy="114.3" r="4.6" fill="#b4b9ba" opacity="0.35"/>
<circle cx="458.30" cy="113.8" r="4.5" fill="#0b0b0b"/>
<circle cx="251.50" cy="134.7" r="4.6" fill="#b4b9ba" opacity="0.35"/>
<circle cx="251.50" cy="134.2" r="4.5" fill="#0b0b0b"/>
<circle cx="270.30" cy="134.7" r="4.6" fill="#b4b9ba" opacity="0.35"/>
<circle cx="270.30" cy="134.2" r="4.5" fill="#0b0b0b"/>
<circle cx="289.10" cy="134.7" r="4.6" fill="#b4b9ba" opacity="0.35"/>
<circle cx="289.10" cy="134.2" r="4.5" fill="#0b0b0b"/>
<circle cx="307.90" cy="134.7" r="4.6" fill="#b4b9ba" opacity="0.35"/>
<circle cx="307.90" cy="134.2" r="4.5" fill="#0b0b0b"/>
<circle cx="401.90" cy="134.7" r="4.6" fill="#b4b9ba" opacity="0.35"/>
<circle cx="401.90" cy="134.2" r="4.5" fill="#0b0b0b"/>
<circle cx="420.70" cy="134.7" r="4.6" fill="#b4b9ba" opacity="0.35"/>
<circle cx="420.70" cy="134.2" r="4.5" fill="#0b0b0b"/>
<circle cx="439.50" cy="134.7" r="4.6" fill="#b4b9ba" opacity="0.35"/>
<circle cx="439.50" cy="134.2" r="4.5" fill="#0b0b0b"/>
<circle cx="458.30" cy="134.7" r="4.6" fill="#b4b9ba" opacity="0.35"/>
<circle cx="458.30" cy="134.2" r="4.5" fill="#0b0b0b"/>
<rect x="280" y="61.5" width="149.5" height="38" rx="5.5" fill="#6f7475" opacity="0.7"/>
<rect x="281.2" y="62.7" width="147.1" height="35.6" rx="4.8" fill="url(#inset)"/>
<text transform="translate(285.49,77.3) scale(0.8,1)" x="0" y="0" font-size="15" fill="#60656a" stroke="#60656a" stroke-width="0.75" textLength="91.25" lengthAdjust="spacing">100-240V~</text>
<text transform="translate(285.0,76.6) scale(0.8,1)" x="0" y="0" font-size="15" fill="#b3b8b9" stroke="#b3b8b9" stroke-width="0.75" textLength="91.25" lengthAdjust="spacing">100-240V~</text>
<text transform="translate(370.49,77.3) scale(0.8,1)" x="0" y="0" font-size="15" fill="#60656a" stroke="#60656a" stroke-width="0.75" textLength="70.00" lengthAdjust="spacing">50/60Hz</text>
<text transform="translate(370.0,76.6) scale(0.8,1)" x="0" y="0" font-size="15" fill="#b3b8b9" stroke="#b3b8b9" stroke-width="0.75" textLength="70.00" lengthAdjust="spacing">50/60Hz</text>
<text transform="translate(287.99,92.8) scale(0.8,1)" x="0" y="0" font-size="15" fill="#60656a" stroke="#60656a" stroke-width="0.75" textLength="140.00" lengthAdjust="spacing">1A/gang 2A total</text>
<text transform="translate(287.5,92.1) scale(0.8,1)" x="0" y="0" font-size="15" fill="#b3b8b9" stroke="#b3b8b9" stroke-width="0.75" textLength="140.00" lengthAdjust="spacing">1A/gang 2A total</text>
<g transform="translate(0.6,0.6)">
<circle cx="416.5" cy="88.7" r="3.7" fill="none" stroke="#5d6263" stroke-width="1.6"/>
<line x1="420.95" y1="84.25" x2="422.86" y2="82.34" stroke="#5d6263" stroke-width="1.5"/>
<line x1="422.80" y1="88.70" x2="425.50" y2="88.70" stroke="#5d6263" stroke-width="1.5"/>
<line x1="420.95" y1="93.15" x2="422.86" y2="95.06" stroke="#5d6263" stroke-width="1.5"/>
<line x1="416.50" y1="95.00" x2="416.50" y2="97.70" stroke="#5d6263" stroke-width="1.5"/>
<line x1="412.05" y1="93.15" x2="410.14" y2="95.06" stroke="#5d6263" stroke-width="1.5"/>
<line x1="410.20" y1="88.70" x2="407.50" y2="88.70" stroke="#5d6263" stroke-width="1.5"/>
<line x1="412.05" y1="84.25" x2="410.14" y2="82.34" stroke="#5d6263" stroke-width="1.5"/>
<rect x="414.7" y="80.5" width="3.6" height="3.6" fill="none" stroke="#5d6263" stroke-width="1.2"/>
</g>
<g transform="translate(0,0)">
<circle cx="416.5" cy="88.7" r="3.7" fill="none" stroke="#b3b8b9" stroke-width="1.6"/>
<line x1="420.95" y1="84.25" x2="422.86" y2="82.34" stroke="#b3b8b9" stroke-width="1.5"/>
<line x1="422.80" y1="88.70" x2="425.50" y2="88.70" stroke="#b3b8b9" stroke-width="1.5"/>
<line x1="420.95" y1="93.15" x2="422.86" y2="95.06" stroke="#b3b8b9" stroke-width="1.5"/>
<line x1="416.50" y1="95.00" x2="416.50" y2="97.70" stroke="#b3b8b9" stroke-width="1.5"/>
<line x1="412.05" y1="93.15" x2="410.14" y2="95.06" stroke="#b3b8b9" stroke-width="1.5"/>
<line x1="410.20" y1="88.70" x2="407.50" y2="88.70" stroke="#b3b8b9" stroke-width="1.5"/>
<line x1="412.05" y1="84.25" x2="410.14" y2="82.34" stroke="#b3b8b9" stroke-width="1.5"/>
<rect x="414.7" y="80.5" width="3.6" height="3.6" fill="none" stroke="#b3b8b9" stroke-width="1.2"/>
</g>
<path transform="translate(244.5,165.2) skewX(-22)" d="M0,-12.2 h4.0 v8.6 h5.5 v3.6 h-9.5 Z" fill="#62676a" fill-rule="evenodd" stroke="#6a6f70" stroke-width="0.9" paint-order="stroke"/>
<path transform="translate(244.5,165.2) skewX(-22)" d="M11,-12.2 h4.5 v12.2 h-4.5 Z" fill="#62676a" fill-rule="evenodd" stroke="#6a6f70" stroke-width="0.9" paint-order="stroke"/>
<path transform="translate(244.5,165.2) skewX(-22)" d="M16.8,-12.2 h4.0 l2,7.699999999999999 l2,-7.699999999999999 h4.0 l-4.5,12.2 h-3 Z" fill="#62676a" fill-rule="evenodd" stroke="#6a6f70" stroke-width="0.9" paint-order="stroke"/>
<path transform="translate(244.5,165.2) skewX(-22)" d="M31.8,-12.2 h7 a2,2 0 0 1 2,2 v8.2 a2,2 0 0 1 -2,2 h-7 a2,2 0 0 1 -2,-2 v-8.2 a2,2 0 0 1 2,-2 Z M34.0,-9.0 v5.799999999999999 h2.6 v-5.799999999999999 Z" fill="#62676a" fill-rule="evenodd" stroke="#6a6f70" stroke-width="0.9" paint-order="stroke"/>
<path transform="translate(244.5,165.2) skewX(-22)" d="M42,-12.2 h4.0 v8.6 h5.5 v3.6 h-9.5 Z" fill="#62676a" fill-rule="evenodd" stroke="#6a6f70" stroke-width="0.9" paint-order="stroke"/>
<path transform="translate(244.5,165.2) skewX(-22)" d="M54.5,-12.2 h7 a2,2 0 0 1 2,2 v8.2 a2,2 0 0 1 -2,2 h-7 a2,2 0 0 1 -2,-2 v-8.2 a2,2 0 0 1 2,-2 Z M56.7,-9.0 v5.799999999999999 h2.6 v-5.799999999999999 Z" fill="#62676a" fill-rule="evenodd" stroke="#6a6f70" stroke-width="0.9" paint-order="stroke"/>
<path transform="translate(243.6,164.3) skewX(-22)" d="M0,-12.2 h4.0 v8.6 h5.5 v3.6 h-9.5 Z" fill="#b0b5b6" fill-rule="evenodd" stroke="#6a6f70" stroke-width="0.9" paint-order="stroke"/>
<path transform="translate(243.6,164.3) skewX(-22)" d="M11,-12.2 h4.5 v12.2 h-4.5 Z" fill="#b0b5b6" fill-rule="evenodd" stroke="#6a6f70" stroke-width="0.9" paint-order="stroke"/>
<path transform="translate(243.6,164.3) skewX(-22)" d="M16.8,-12.2 h4.0 l2,7.699999999999999 l2,-7.699999999999999 h4.0 l-4.5,12.2 h-3 Z" fill="#b0b5b6" fill-rule="evenodd" stroke="#6a6f70" stroke-width="0.9" paint-order="stroke"/>
<path transform="translate(243.6,164.3) skewX(-22)" d="M31.8,-12.2 h7 a2,2 0 0 1 2,2 v8.2 a2,2 0 0 1 -2,2 h-7 a2,2 0 0 1 -2,-2 v-8.2 a2,2 0 0 1 2,-2 Z M34.0,-9.0 v5.799999999999999 h2.6 v-5.799999999999999 Z" fill="#b0b5b6" fill-rule="evenodd" stroke="#6a6f70" stroke-width="0.9" paint-order="stroke"/>
<path transform="translate(243.6,164.3) skewX(-22)" d="M42,-12.2 h4.0 v8.6 h5.5 v3.6 h-9.5 Z" fill="#b0b5b6" fill-rule="evenodd" stroke="#6a6f70" stroke-width="0.9" paint-order="stroke"/>
<path transform="translate(243.6,164.3) skewX(-22)" d="M54.5,-12.2 h7 a2,2 0 0 1 2,2 v8.2 a2,2 0 0 1 -2,2 h-7 a2,2 0 0 1 -2,-2 v-8.2 a2,2 0 0 1 2,-2 Z M56.7,-9.0 v5.799999999999999 h2.6 v-5.799999999999999 Z" fill="#b0b5b6" fill-rule="evenodd" stroke="#6a6f70" stroke-width="0.9" paint-order="stroke"/>
<rect x="327" y="126" width="55" height="42.5" rx="6" fill="#7f8485"/>
<rect x="328" y="127" width="53" height="40.5" rx="5.5" fill="url(#inset2)"/>
<g transform="translate(0.8,0.8)">
<path d="M348.5,132 A15.3,15.3 0 0 0 348.5,162.6" fill="none" stroke="#6c7172" stroke-width="4.8"/>
<path d="M376.5,132 A15.3,15.3 0 0 0 376.5,162.6" fill="none" stroke="#6c7172" stroke-width="4.8"/>
<line x1="362" y1="147.3" x2="373.5" y2="147.3" stroke="#6c7172" stroke-width="4.2"/>
</g>
<g transform="translate(0,0)">
<path d="M348.5,132 A15.3,15.3 0 0 0 348.5,162.6" fill="none" stroke="#a9aeaf" stroke-width="4.8"/>
<path d="M376.5,132 A15.3,15.3 0 0 0 376.5,162.6" fill="none" stroke="#a9aeaf" stroke-width="4.8"/>
<line x1="362" y1="147.3" x2="373.5" y2="147.3" stroke="#a9aeaf" stroke-width="4.2"/>
</g>
<rect x="425.5" y="148.5" width="46.5" height="16" fill="#868b8c" stroke="#a6abac" stroke-width="1.2"/>
<rect x="427" y="150" width="43.5" height="13" fill="none" stroke="#787d7e" stroke-width="0.8"/>
<text x="435.5" y="160" font-size="10.8" fill="#b3b8b9" stroke="#b3b8b9" stroke-width="0.5" textLength="26" lengthAdjust="spacingAndGlyphs">6mm</text>
<path d="M428,156.2 H434.5 M428,156.2 l2.3,-2.2 M428,156.2 l2.3,2.2 M462.5,156.2 H469 M469,156.2 l-2.3,-2.2 M469,156.2 l-2.3,2.2" fill="none" stroke="#b3b8b9" stroke-width="1.1"/>
<path d="M480,144 H473 V169.5 H480" fill="none" stroke="#a6abac" stroke-width="1.8"/>
<path d="M481,145 H474.5 V168 H481" fill="none" stroke="#7b8081" stroke-width="0.7"/>
<rect x="258.5" y="215.8" width="28.2" height="1.6" fill="#c3c8c9" opacity="0.85"/>
<path d="M259,215.8 V198.1 A13.6,13.6 0 0 1 286.2,198.1 V215.8 Z" fill="url(#rim)"/>
<path d="M260.5,215.8 V201.1 A12.1,12.1 0 0 1 284.7,201.1 V215.8 Z" fill="#040404"/>
<rect x="292.0" y="215.8" width="28.2" height="1.6" fill="#c3c8c9" opacity="0.85"/>
<path d="M292.5,215.8 V198.1 A13.6,13.6 0 0 1 319.7,198.1 V215.8 Z" fill="url(#rim)"/>
<path d="M293.7,215.8 V204.1 A12.4,12.4 0 0 1 318.5,204.1 V215.8 Z" fill="#245c38"/>
<path d="M295.0,215.8 V206.1 A11.1,11.1 0 0 1 317.2,206.1 V215.8 Z" fill="#2b6e44" opacity="0.5"/>
<clipPath id="cp2925"><rect x="292.5" y="180" width="27.2" height="35.80000000000001"/></clipPath>
<g clip-path="url(#cp2925)">
<circle cx="306.1" cy="208.3" r="12.2" fill="url(#screw)"/>
<line x1="299.1" y1="215.3" x2="312.6" y2="199.8" stroke="#6a6a6a" stroke-width="3.4" filter="url(#blur1)"/>
<line x1="299.6" y1="214.8" x2="312.1" y2="200.3" stroke="#4a4a4a" stroke-width="1.2" filter="url(#blur1)"/>
</g>
<rect x="325.0" y="215.8" width="28.2" height="1.6" fill="#c3c8c9" opacity="0.85"/>
<path d="M325.5,215.8 V198.1 A13.6,13.6 0 0 1 352.7,198.1 V215.8 Z" fill="url(#rim)"/>
<path d="M326.7,215.8 V204.1 A12.4,12.4 0 0 1 351.5,204.1 V215.8 Z" fill="#245c38"/>
<path d="M328.0,215.8 V206.1 A11.1,11.1 0 0 1 350.2,206.1 V215.8 Z" fill="#2b6e44" opacity="0.5"/>
<clipPath id="cp3255"><rect x="325.5" y="180" width="27.2" height="35.80000000000001"/></clipPath>
<g clip-path="url(#cp3255)">
<circle cx="339.1" cy="208.3" r="12.2" fill="url(#screw)"/>
<line x1="332.1" y1="215.3" x2="345.6" y2="199.8" stroke="#6a6a6a" stroke-width="3.4" filter="url(#blur1)"/>
<line x1="332.6" y1="214.8" x2="345.1" y2="200.3" stroke="#4a4a4a" stroke-width="1.2" filter="url(#blur1)"/>
</g>
<rect x="357.8" y="215.8" width="28.2" height="1.6" fill="#c3c8c9" opacity="0.85"/>
<path d="M358.3,215.8 V198.1 A13.6,13.6 0 0 1 385.5,198.1 V215.8 Z" fill="url(#rim)"/>
<path d="M359.5,215.8 V204.1 A12.4,12.4 0 0 1 384.3,204.1 V215.8 Z" fill="#245c38"/>
<path d="M360.8,215.8 V206.1 A11.1,11.1 0 0 1 383.0,206.1 V215.8 Z" fill="#2b6e44" opacity="0.5"/>
<clipPath id="cp3583"><rect x="358.3" y="180" width="27.2" height="35.80000000000001"/></clipPath>
<g clip-path="url(#cp3583)">
<circle cx="371.90000000000003" cy="208.3" r="12.2" fill="url(#screw)"/>
<line x1="364.90000000000003" y1="215.3" x2="378.40000000000003" y2="199.8" stroke="#6a6a6a" stroke-width="3.4" filter="url(#blur1)"/>
<line x1="365.40000000000003" y1="214.8" x2="377.90000000000003" y2="200.3" stroke="#4a4a4a" stroke-width="1.2" filter="url(#blur1)"/>
</g>
<rect x="390.6" y="215.8" width="28.2" height="1.6" fill="#c3c8c9" opacity="0.85"/>
<path d="M391.1,215.8 V198.1 A13.6,13.6 0 0 1 418.3,198.1 V215.8 Z" fill="url(#rim)"/>
<path d="M392.3,215.8 V204.1 A12.4,12.4 0 0 1 417.1,204.1 V215.8 Z" fill="#245c38"/>
<path d="M393.6,215.8 V206.1 A11.1,11.1 0 0 1 415.8,206.1 V215.8 Z" fill="#2b6e44" opacity="0.5"/>
<clipPath id="cp3911"><rect x="391.1" y="180" width="27.2" height="35.80000000000001"/></clipPath>
<g clip-path="url(#cp3911)">
<circle cx="404.70000000000005" cy="208.3" r="12.2" fill="url(#screw)"/>
<line x1="397.70000000000005" y1="215.3" x2="411.20000000000005" y2="199.8" stroke="#6a6a6a" stroke-width="3.4" filter="url(#blur1)"/>
<line x1="398.20000000000005" y1="214.8" x2="410.70000000000005" y2="200.3" stroke="#4a4a4a" stroke-width="1.2" filter="url(#blur1)"/>
</g>
<rect x="423.5" y="215.8" width="28.2" height="1.6" fill="#c3c8c9" opacity="0.85"/>
<path d="M424,215.8 V198.1 A13.6,13.6 0 0 1 451.2,198.1 V215.8 Z" fill="url(#rim)"/>
<path d="M425.2,215.8 V204.1 A12.4,12.4 0 0 1 450.0,204.1 V215.8 Z" fill="#245c38"/>
<path d="M426.5,215.8 V206.1 A11.1,11.1 0 0 1 448.7,206.1 V215.8 Z" fill="#2b6e44" opacity="0.5"/>
<clipPath id="cp4240"><rect x="424" y="180" width="27.2" height="35.80000000000001"/></clipPath>
<g clip-path="url(#cp4240)">
<circle cx="437.6" cy="208.3" r="12.2" fill="url(#screw)"/>
<line x1="430.6" y1="215.3" x2="444.1" y2="199.8" stroke="#6a6a6a" stroke-width="3.4" filter="url(#blur1)"/>
<line x1="431.1" y1="214.8" x2="443.6" y2="200.3" stroke="#4a4a4a" stroke-width="1.2" filter="url(#blur1)"/>
</g>
<rect x="251" y="223.5" width="207" height="12" rx="6" fill="#80858a" opacity="0.65"/>
<rect x="251.5" y="224.2" width="206" height="11" rx="5.5" fill="#858a8b"/>
<text x="273.5" y="235" text-anchor="middle" font-size="12" font-weight="bold" fill="#5f6465" textLength="19" lengthAdjust="spacingAndGlyphs">N/G</text>
<text x="273" y="234.3" text-anchor="middle" font-size="12" font-weight="bold" fill="#c4c8c9" textLength="19" lengthAdjust="spacingAndGlyphs">N/G</text>
<text x="309.0" y="235" text-anchor="middle" font-size="12" font-weight="bold" fill="#5f6465" textLength="11.5" lengthAdjust="spacingAndGlyphs">L2</text>
<text x="308.5" y="234.3" text-anchor="middle" font-size="12" font-weight="bold" fill="#c4c8c9" textLength="11.5" lengthAdjust="spacingAndGlyphs">L2</text>
<text x="342.0" y="235" text-anchor="middle" font-size="12" font-weight="bold" fill="#5f6465" textLength="11" lengthAdjust="spacingAndGlyphs">L1</text>
<text x="341.5" y="234.3" text-anchor="middle" font-size="12" font-weight="bold" fill="#c4c8c9" textLength="11" lengthAdjust="spacingAndGlyphs">L1</text>
<text x="388.5" y="235" text-anchor="middle" font-size="12" font-weight="bold" fill="#5f6465" textLength="6" lengthAdjust="spacingAndGlyphs">L</text>
<text x="388" y="234.3" text-anchor="middle" font-size="12" font-weight="bold" fill="#c4c8c9" textLength="6" lengthAdjust="spacingAndGlyphs">L</text>
<text x="438.0" y="235" text-anchor="middle" font-size="12" font-weight="bold" fill="#5f6465" textLength="22" lengthAdjust="spacingAndGlyphs">COM</text>
<text x="437.5" y="234.3" text-anchor="middle" font-size="12" font-weight="bold" fill="#c4c8c9" textLength="22" lengthAdjust="spacingAndGlyphs">COM</text>
<path transform="translate(0.5,0.5)" d="M300.5,226.5 V234.3 M297.9,229.4 L300.5,226.3 L303.1,229.4" fill="none" stroke="#5f6465" stroke-width="1.5"/>
<path transform="translate(0,0)" d="M300.5,226.5 V234.3 M297.9,229.4 L300.5,226.3 L303.1,229.4" fill="none" stroke="#c4c8c9" stroke-width="1.5"/>
<path transform="translate(0.5,0.5)" d="M333.5,226.5 V234.3 M330.9,229.4 L333.5,226.3 L336.1,229.4" fill="none" stroke="#5f6465" stroke-width="1.5"/>
<path transform="translate(0,0)" d="M333.5,226.5 V234.3 M330.9,229.4 L333.5,226.3 L336.1,229.4" fill="none" stroke="#c4c8c9" stroke-width="1.5"/>
<line x1="273" y1="236" x2="273" y2="252" stroke="#62676a" stroke-width="1.4"/>
<line x1="305.5" y1="236" x2="305.5" y2="252" stroke="#62676a" stroke-width="1.4"/>
<line x1="338.5" y1="236" x2="338.5" y2="252" stroke="#62676a" stroke-width="1.4"/>
<line x1="437.5" y1="236" x2="437.5" y2="252" stroke="#62676a" stroke-width="1.4"/>
<path d="M388,236 V244 M371.5,252 V244 H405 V252" fill="none" stroke="#62676a" stroke-width="1.4"/>
<rect x="258" y="260.5" width="27" height="27" fill="#191b1b"/>
<line x1="258" y1="270.5" x2="285" y2="270.5" stroke="#6f7475" stroke-width="1.5"/>
<line x1="272.5" y1="262" x2="272.5" y2="280" stroke="#4a4e4f" stroke-width="1.1"/>
<circle cx="272.5" cy="271" r="3.8" fill="#8d9293"/>
<rect x="292" y="260.5" width="27" height="27" fill="url(#slotg)"/>
<rect x="295" y="263" width="21" height="5.5" fill="#0e1110"/>
<rect x="325.5" y="260.5" width="27" height="27" fill="url(#slotg)"/>
<rect x="328.5" y="263" width="21" height="5.5" fill="#0e1110"/>
<rect x="359" y="260.5" width="27" height="27" fill="url(#slotg)"/>
<rect x="362" y="263" width="21" height="5.5" fill="#0e1110"/>
<rect x="392" y="260.5" width="27" height="27" fill="url(#slotg)"/>
<rect x="395" y="263" width="21" height="5.5" fill="#0e1110"/>
<rect x="425.5" y="260.5" width="27" height="27" fill="url(#slotg)"/>
<rect x="428.5" y="263" width="21" height="5.5" fill="#0e1110"/>
<path d="M251,256 H258 L261.0,287.5 H254.0 Z" fill="url(#pillar)"/>
<path d="M285,256 H292 L294.0,287.5 H287.0 Z" fill="url(#pillar)"/>
<path d="M318.5,256 H325.5 L326.5,287.5 H319.5 Z" fill="url(#pillar)"/>
<path d="M352,256 H359 L359.0,287.5 H352.0 Z" fill="url(#pillar)"/>
<path d="M385.5,256 H392.5 L391.5,287.5 H384.5 Z" fill="url(#pillar)"/>
<path d="M419,256 H426 L424.0,287.5 H417.0 Z" fill="url(#pillar)"/>
<path d="M453,256 H460 L457.0,287.5 H450.0 Z" fill="url(#pillar)"/>
</g>
<path d="M300.5,283 V266 Q300.5,262 305,262 Q309.5,262 309.5,266 V283 Z" fill="url(#bsH)"/>
<path d="M334.3,283 V266 Q334.3,262 338.8,262 Q343.3,262 343.3,266 V283 Z" fill="url(#bsH)"/>
<path d="M367.8,283 V266 Q367.8,262 372.3,262 Q376.8,262 376.8,266 V283 Z" fill="url(#bsH)"/>
<path d="M434.8,283 V266 Q434.8,262 439.3,262 Q443.8,262 443.8,266 V283 Z" fill="url(#bsH)"/>
<path d="M656.0,271 V253.5 Q656.0,249.5 660.5,249.5 Q665.0,249.5 665.0,253.5 V271 Z" fill="url(#bsH)"/>
<path d="M722.8,271 V253.5 Q722.8,249.5 727.3,249.5 Q731.8,249.5 731.8,253.5 V271 Z" fill="url(#bsH)"/>
<rect x="127" y="360" width="199" height="14" fill="url(#blV)"/>
<path d="M85,364 Q85,362 88,362 H127 V372.6 H88 Q85,372.6 85,370.6 Z" fill="url(#bsV)"/>
<path d="M439.3,282 L439.3,328.15 L727.3,328.15 L727.3,270" fill="none" stroke="#a656c8" stroke-width="11.9" stroke-linejoin="miter"/>
<linearGradient id="wg1" gradientUnits="userSpaceOnUse" x1="432.6" y1="0" x2="446.0" y2="0"><stop offset="0" stop-color="#8e45b3"/><stop offset="0.35" stop-color="#c274e2"/><stop offset="0.7" stop-color="#a656c8"/><stop offset="1" stop-color="#7a3598"/></linearGradient>
<path d="M432.6,282 L446.0,282 L446.0,321.45 L432.6,334.84999999999997 Z" fill="url(#wg1)"/>
<linearGradient id="wg2" gradientUnits="userSpaceOnUse" x1="0" y1="321.45" x2="0" y2="334.84999999999997"><stop offset="0" stop-color="#8e45b3"/><stop offset="0.35" stop-color="#c274e2"/><stop offset="0.7" stop-color="#a656c8"/><stop offset="1" stop-color="#7a3598"/></linearGradient>
<path d="M446.0,321.45 L720.5999999999999,321.45 L734.0,334.84999999999997 L432.6,334.84999999999997 Z" fill="url(#wg2)"/>
<linearGradient id="wg3" gradientUnits="userSpaceOnUse" x1="720.5999999999999" y1="0" x2="734.0" y2="0"><stop offset="0" stop-color="#8e45b3"/><stop offset="0.35" stop-color="#c274e2"/><stop offset="0.7" stop-color="#a656c8"/><stop offset="1" stop-color="#7a3598"/></linearGradient>
<path d="M720.5999999999999,321.45 L734.0,334.84999999999997 L734.0,270 L720.5999999999999,270 Z" fill="url(#wg3)"/>
<path d="M304.8,282 L304.8,319.85 L261.7,319.85 L261.7,351" fill="none" stroke="#a77443" stroke-width="11.9" stroke-linejoin="miter"/>
<linearGradient id="wg4" gradientUnits="userSpaceOnUse" x1="298.1" y1="0" x2="311.5" y2="0"><stop offset="0" stop-color="#7a4f24"/><stop offset="0.3" stop-color="#b3814e"/><stop offset="0.65" stop-color="#a77443"/><stop offset="1" stop-color="#86592c"/></linearGradient>
<path d="M298.1,282 L311.5,282 L311.5,326.55 L298.1,313.15000000000003 Z" fill="url(#wg4)"/>
<linearGradient id="wg5" gradientUnits="userSpaceOnUse" x1="0" y1="313.15000000000003" x2="0" y2="326.55"><stop offset="0" stop-color="#7a4f24"/><stop offset="0.3" stop-color="#b3814e"/><stop offset="0.65" stop-color="#a77443"/><stop offset="1" stop-color="#86592c"/></linearGradient>
<path d="M298.1,313.15000000000003 L255.0,313.15000000000003 L268.4,326.55 L311.5,326.55 Z" fill="url(#wg5)"/>
<linearGradient id="wg6" gradientUnits="userSpaceOnUse" x1="255.0" y1="0" x2="268.4" y2="0"><stop offset="0" stop-color="#7a4f24"/><stop offset="0.3" stop-color="#b3814e"/><stop offset="0.65" stop-color="#a77443"/><stop offset="1" stop-color="#86592c"/></linearGradient>
<path d="M255.0,313.15000000000003 L268.4,326.55 L268.4,351 L255.0,351 Z" fill="url(#wg6)"/>
<path d="M338.8,282 L338.8,351" fill="none" stroke="#a77443" stroke-width="11.9" stroke-linejoin="miter"/>
<linearGradient id="wg7" gradientUnits="userSpaceOnUse" x1="332.1" y1="0" x2="345.5" y2="0"><stop offset="0" stop-color="#7a4f24"/><stop offset="0.3" stop-color="#b3814e"/><stop offset="0.65" stop-color="#a77443"/><stop offset="1" stop-color="#86592c"/></linearGradient>
<path d="M332.1,282 L345.5,282 L345.5,351 L332.1,351 Z" fill="url(#wg7)"/>
<path d="M372.3,282 L372.3,366.9 L853.3,366.9" fill="none" stroke="#a77443" stroke-width="11.9" stroke-linejoin="miter"/>
<linearGradient id="wg8" gradientUnits="userSpaceOnUse" x1="365.6" y1="0" x2="379.0" y2="0"><stop offset="0" stop-color="#7a4f24"/><stop offset="0.3" stop-color="#b3814e"/><stop offset="0.65" stop-color="#a77443"/><stop offset="1" stop-color="#86592c"/></linearGradient>
<path d="M365.6,282 L379.0,282 L379.0,360.2 L365.6,373.59999999999997 Z" fill="url(#wg8)"/>
<linearGradient id="wg9" gradientUnits="userSpaceOnUse" x1="0" y1="360.2" x2="0" y2="373.59999999999997"><stop offset="0" stop-color="#7a4f24"/><stop offset="0.3" stop-color="#b3814e"/><stop offset="0.65" stop-color="#a77443"/><stop offset="1" stop-color="#86592c"/></linearGradient>
<path d="M379.0,360.2 L853.3,360.2 L853.3,373.59999999999997 L365.6,373.59999999999997 Z" fill="url(#wg9)"/>
<linearGradient id="wg10" gradientUnits="userSpaceOnUse" x1="653.8" y1="0" x2="667.2" y2="0"><stop offset="0" stop-color="#7a4f24"/><stop offset="0.3" stop-color="#b3814e"/><stop offset="0.65" stop-color="#a77443"/><stop offset="1" stop-color="#86592c"/></linearGradient>
<path d="M653.8,270 H667.2 V360.2 L660.5,366.9 L653.8,360.2 Z" fill="url(#wg10)"/>
<path d="M853.3,361.5 H892 Q895.5,361.5 895.5,364.5 V369.5 Q895.5,372.5 892,372.5 H853.3 Z" fill="url(#bsV)"/>
<path d="M253.8,350.5 H268.8 L270.3,356.5 H252.3 Z" fill="url(#collar)"/>
<path d="M245.8,381 H276.8 Q279.3,381 279.3,384 C280.8,395 291.3,406 293.8,418 C295.0,424 295.3,430 295.3,436 A34,34 0 0 1 227.3,436 C227.3,430 227.60000000000002,424 228.8,418 C231.3,406 241.8,395 243.3,384 Q243.3,381 245.8,381 Z" fill="url(#glassH)"/>
<path d="M245.8,381 H276.8 Q279.3,381 279.3,384 C280.8,395 291.3,406 293.8,418 C295.0,424 295.3,430 295.3,436 A34,34 0 0 1 227.3,436 C227.3,430 227.60000000000002,424 228.8,418 C231.3,406 241.8,395 243.3,384 Q243.3,381 245.8,381 Z" fill="url(#glass)"/>
<path d="M228.3,423.5 Q261.3,421.5 294.3,423.5" fill="none" stroke="#d2d2d2" stroke-width="1.1"/>
<path d="M248.8,356 H273.8 Q275.1,356 275.1,358 V375 L273.8,381.5 H248.8 L247.5,375 V358 Q247.5,356 248.8,356 Z" fill="url(#metal)"/>
<path d="M247.5,360.0 L275.1,361.3" stroke="#3a3a3a" stroke-width="1.3" opacity="0.6"/>
<path d="M247.5,364.2 L275.1,365.5" stroke="#3a3a3a" stroke-width="1.3" opacity="0.6"/>
<path d="M247.5,368.4 L275.1,369.7" stroke="#3a3a3a" stroke-width="1.3" opacity="0.6"/>
<path d="M247.5,372.6 L275.1,373.90000000000003" stroke="#3a3a3a" stroke-width="1.3" opacity="0.6"/>
<rect x="248.3" y="376" width="26" height="1.2" fill="#3a3a3a" opacity="0.5"/>
<path d="M331.0,350.5 H346.0 L347.5,356.5 H329.5 Z" fill="url(#collar)"/>
<path d="M323.0,381 H354.0 Q356.5,381 356.5,384 C358.0,395 368.5,406 371.0,418 C372.2,424 372.5,430 372.5,436 A34,34 0 0 1 304.5,436 C304.5,430 304.8,424 306.0,418 C308.5,406 319.0,395 320.5,384 Q320.5,381 323.0,381 Z" fill="url(#glassH)"/>
<path d="M323.0,381 H354.0 Q356.5,381 356.5,384 C358.0,395 368.5,406 371.0,418 C372.2,424 372.5,430 372.5,436 A34,34 0 0 1 304.5,436 C304.5,430 304.8,424 306.0,418 C308.5,406 319.0,395 320.5,384 Q320.5,381 323.0,381 Z" fill="url(#glass)"/>
<path d="M305.5,423.5 Q338.5,421.5 371.5,423.5" fill="none" stroke="#d2d2d2" stroke-width="1.1"/>
<path d="M326.0,356 H351.0 Q352.3,356 352.3,358 V375 L351.0,381.5 H326.0 L324.7,375 V358 Q324.7,356 326.0,356 Z" fill="url(#metal)"/>
<path d="M324.7,360.0 L352.3,361.3" stroke="#3a3a3a" stroke-width="1.3" opacity="0.6"/>
<path d="M324.7,364.2 L352.3,365.5" stroke="#3a3a3a" stroke-width="1.3" opacity="0.6"/>
<path d="M324.7,368.4 L352.3,369.7" stroke="#3a3a3a" stroke-width="1.3" opacity="0.6"/>
<path d="M324.7,372.6 L352.3,373.90000000000003" stroke="#3a3a3a" stroke-width="1.3" opacity="0.6"/>
<rect x="325.5" y="376" width="26" height="1.2" fill="#3a3a3a" opacity="0.5"/>
<text x="114" y="343.5" font-size="24.5" fill="#111" stroke="#111" stroke-width="0.85" textLength="61" lengthAdjust="spacingAndGlyphs">НУЛЬ</text>
<text x="806" y="343.5" font-size="24" fill="#111" stroke="#111" stroke-width="0.9" textLength="64" lengthAdjust="spacingAndGlyphs">ФАЗА</text>
<text transform="translate(671.5,415) scale(0.9,1)" x="0" y="0" font-size="21.5" fill="#2e2e2e" textLength="168.3" lengthAdjust="spacing">інформаційний</text>
<line x1="683" y1="328.3" x2="747.3" y2="394.3" stroke="#1a1a1a" stroke-width="1.2"/>
<circle cx="683" cy="328.3" r="3.3" fill="#111"/>
</svg></body></html>
